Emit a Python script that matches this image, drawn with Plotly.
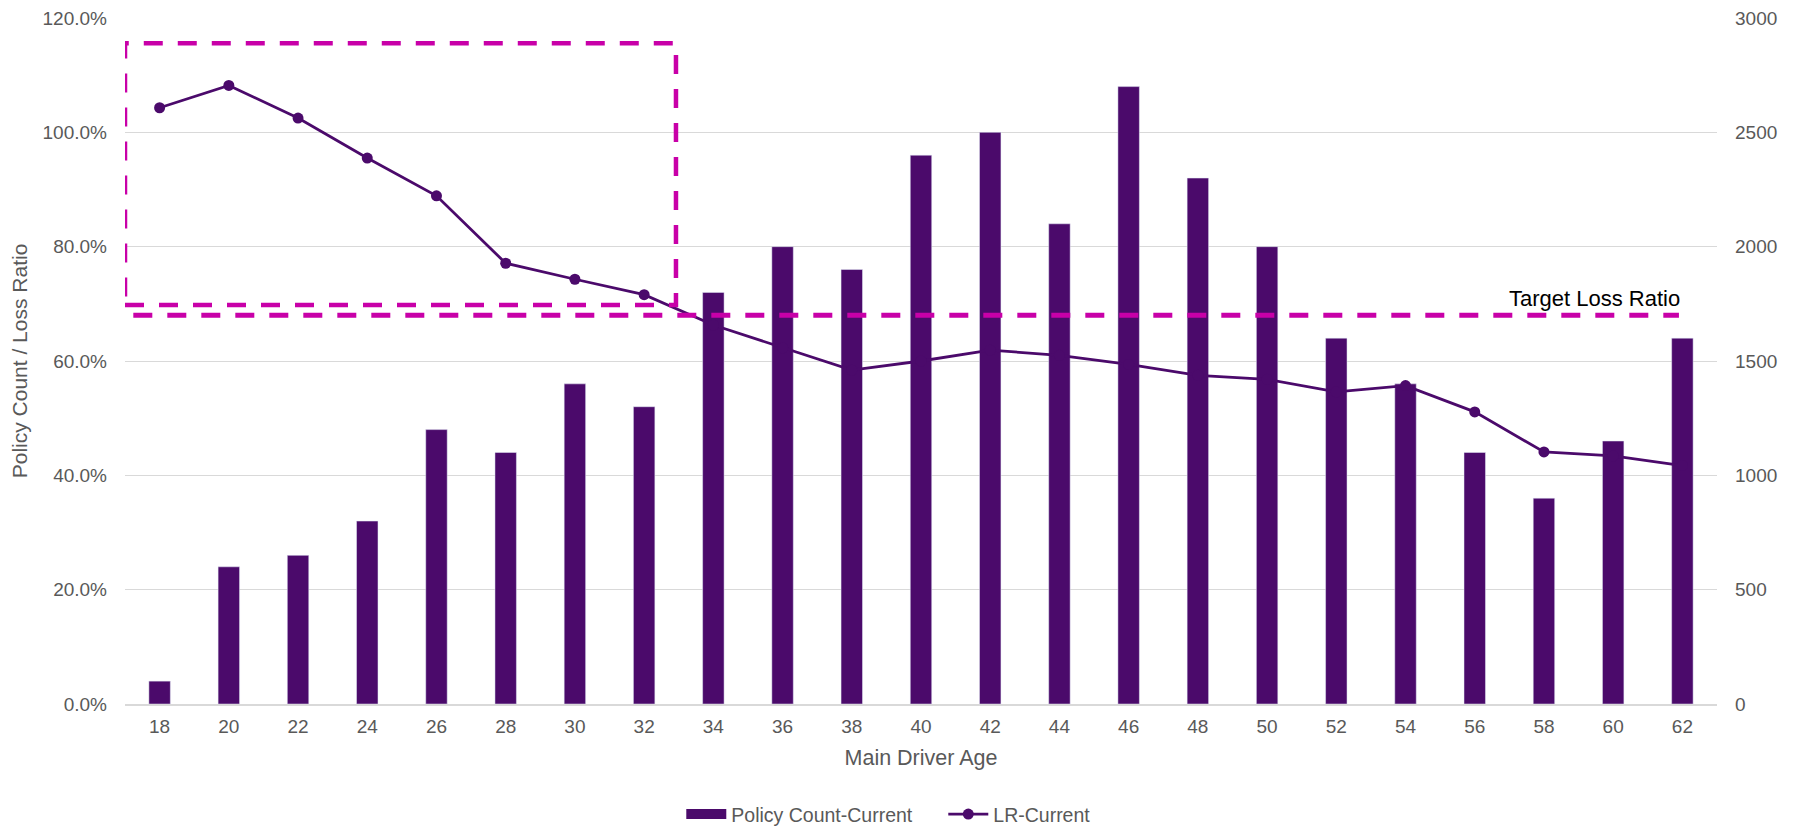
import plotly.graph_objects as go

# ---- data ----
ages = [18, 20, 22, 24, 26, 28, 30, 32, 34, 36, 38, 40, 42, 44, 46, 48, 50, 52, 54, 56, 58, 60, 62]
policy_count = [100, 600, 650, 800, 1200, 1100, 1400, 1300, 1800, 2000, 1900, 2400, 2500, 2100,
                2700, 2300, 2000, 1600, 1400, 1100, 900, 1150, 1600]
loss_ratio = [1.043, 1.082, 1.025, 0.955, 0.889, 0.771, 0.743, 0.716, 0.663, 0.623, 0.584, 0.600,
              0.619, 0.610, 0.594, 0.575, 0.568, 0.546, 0.557, 0.511, 0.441, 0.434, 0.417]
target_lr = 0.68
left_ticks = [0, 0.2, 0.4, 0.6, 0.8, 1.0, 1.2]
right_ticks = [0, 500, 1000, 1500, 2000, 2500, 3000]
# highlight box (young drivers above target)
box_age_from, box_age_to = 17, 32.92
box_lr_low, box_lr_high = 0.698, 1.156

PURPLE = "#4B0A6B"
MAGENTA = "#C800A8"
GREY = "#595959"
FONT = "Liberation Sans, Arial, sans-serif"

fig = go.Figure()
fig.add_trace(go.Bar(
    x=ages, y=policy_count, name="Policy Count-Current",
    marker=dict(color=PURPLE), width=0.62, yaxis="y", showlegend=False,
    legendgroup="pc",
))
# legend swatch for the bars (wide flat rectangle, as in the source)
fig.add_trace(go.Scatter(
    x=[None], y=[None], name="Policy Count-Current", mode="lines",
    line=dict(color=PURPLE, width=10), yaxis="y", legendgroup="pc",
))
fig.add_trace(go.Scatter(
    x=ages, y=loss_ratio, name="LR-Current", mode="lines+markers",
    line=dict(color=PURPLE, width=2.8), marker=dict(size=11, color=PURPLE),
    yaxis="y2",
))

# highlight rectangle
fig.add_shape(type="rect", xref="x", yref="y2",
              x0=box_age_from, x1=box_age_to, y0=box_lr_low, y1=box_lr_high,
              line=dict(color=MAGENTA, width=4.5, dash="19px,15px"),
              fillcolor="rgba(0,0,0,0)", layer="above")
# target loss ratio line
fig.add_shape(type="line", xref="x", yref="y2",
              x0=17.24, x1=61.9, y0=target_lr, y1=target_lr,
              line=dict(color=MAGENTA, width=5, dash="19px,15px"), layer="above")
fig.add_annotation(x=62, y=target_lr, xref="x", yref="y2", text="Target Loss Ratio",
                   showarrow=False, xanchor="right", yanchor="bottom", yshift=2,
                   font=dict(family=FONT, size=22, color="#000000"))

fig.update_layout(
    width=1801, height=828,
    margin=dict(l=125, r=84, t=18, b=124, autoexpand=False),
    paper_bgcolor="white", plot_bgcolor="white",
    font=dict(family=FONT, color=GREY, size=19),
    showlegend=True,
    legend=dict(orientation="h", x=0.514, xanchor="center", y=-0.161, yanchor="middle",
                font=dict(family=FONT, size=19.5, color=GREY), traceorder="normal",
                itemwidth=40, tracegroupgap=0, entrywidth=207, entrywidthmode="pixels"),
    bargap=0.69,
    xaxis=dict(
        range=[17, 63], tickmode="array", tickvals=ages, ticktext=[str(a) for a in ages],
        showgrid=False, zeroline=False, showline=True, linecolor="#D9D9D9", linewidth=1.5,
        ticks="", ticklabelstandoff=4, automargin=False,
        tickfont=dict(family=FONT, size=19, color=GREY),
        title=dict(text="Main Driver Age", font=dict(family=FONT, size=21.5, color=GREY), standoff=14),
    ),
    yaxis=dict(
        side="right", range=[0, 3000], tickmode="array", tickvals=right_ticks,
        showgrid=True, gridcolor="#D9D9D9", gridwidth=1.3, zeroline=False,
        ticks="", ticklabelstandoff=17, automargin=False,
        tickfont=dict(family=FONT, size=19, color=GREY),
    ),
    yaxis2=dict(
        side="left", overlaying="y", range=[0, 1.2], tickmode="array", tickvals=left_ticks,
        tickformat=".1%", showgrid=False, zeroline=False, ticks="", ticklabelstandoff=17,
        automargin=False,
        tickfont=dict(family=FONT, size=19, color=GREY),
        title=dict(text="Policy Count / Loss Ratio", font=dict(family=FONT, size=21, color=GREY), standoff=9),
    ),
)

fig.write_html("out.html")
